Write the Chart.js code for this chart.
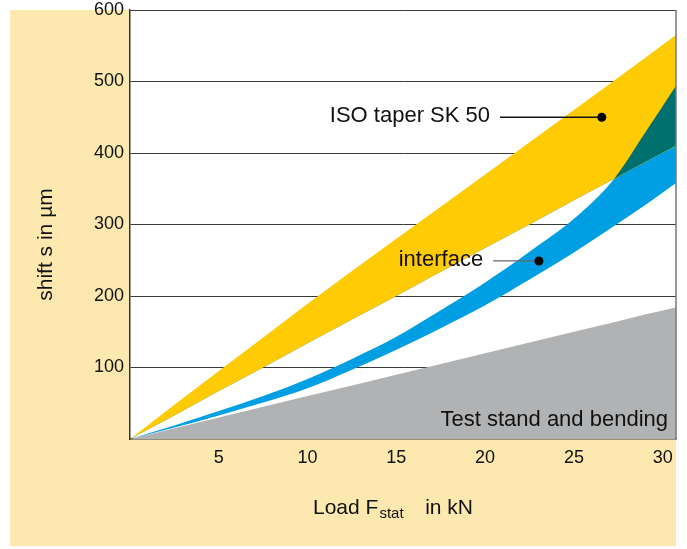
<!DOCTYPE html>
<html><head><meta charset="utf-8">
<script src="https://cdn.jsdelivr.net/npm/chart.js@4.4.1/dist/chart.umd.min.js"></script>
<style>html,body{margin:0;padding:0;background:#fff}#wrap{width:687px;height:549px}</style>
</head><body><div id="wrap"><canvas id="c" width="687" height="549"></canvas></div>
<script>
// ---- data (load in kN, shift in µm) ----
const loads          = [0, 2.5, 5, 7.5, 10, 12.5, 15, 17.5, 20, 22.5, 25, 27.2, 29, 30.75];
const testStand      = [0, 15, 30, 45, 60, 75, 90, 105, 120, 135, 150, 163, 174, 184];
const isoUpper       = [0, 48, 95, 142, 189, 235, 280, 325, 370, 415, 460, 500, 533, 565];
const isoLower       = [0, 33, 67, 100, 134, 167, 200, 234, 267, 300, 334, 363, 387, 410];
const interfaceUpper = [0, 19, 39, 60, 84, 112, 143, 180, 219, 262, 308, 362, 428, 494];
const interfaceLower = [0, 16, 33, 51, 71, 97, 125, 155, 187, 223, 261, 297, 327, 358];
const xTicks = [5, 10, 15, 20, 25, 30];
const yTicks = [100, 200, 300, 400, 500, 600];
const markerNames  = ['ISO taper SK 50', 'interface'];
const markerLoad   = [26.57, 23.03];
const markerShift  = [450, 249];
const leaderStart  = [20.84, 20.45];
const areaLabel    = 'Test stand and bending';

// ---- styles ----
const PANEL = '#FDE9B0', YELLOW = '#FFCB05', BLUE = '#009FE3', TEAL = '#00706E', GRAY = '#B1B2B4';
const FONT = "'Liberation Sans', Arial, Helvetica, sans-serif";
Chart.defaults.font.family = FONT;
Chart.defaults.color = '#111';

const pts = arr => loads.map((x, i) => ({x, y: arr[i]}));
const hidden = {borderWidth: 0, borderColor: 'rgba(0,0,0,0)', pointRadius: 0, tension: 0};
const curved = {...hidden, cubicInterpolationMode: 'monotone'};

const deco = {
  id: 'deco',
  beforeDraw(chart) {
    const {ctx, chartArea: a} = chart;
    ctx.save();
    ctx.fillStyle = PANEL;
    ctx.fillRect(10, 10, a.right - 10, 536);
    ctx.fillStyle = '#fff';
    ctx.fillRect(a.left, a.top, a.right - a.left, a.bottom - a.top);
    ctx.restore();
  },
  beforeDatasetDraw(chart, args) {
    if (args.index !== 6) return;
    const {ctx} = chart, xs = chart.scales.x, ys = chart.scales.y;
    ctx.save();
    markerNames.forEach((name, i) => {
      const y = ys.getPixelForValue(markerShift[i]);
      const x0 = xs.getPixelForValue(leaderStart[i]);
      const x1 = xs.getPixelForValue(markerLoad[i]);
      ctx.strokeStyle = i === 0 ? '#111' : '#666';
      ctx.lineWidth = 1.3;
      ctx.beginPath(); ctx.moveTo(x0, y); ctx.lineTo(x1, y); ctx.stroke();
      ctx.fillStyle = '#111';
      ctx.font = '22px ' + FONT;
      ctx.textAlign = 'right'; ctx.textBaseline = 'alphabetic';
      ctx.fillText(name, x0 - 10, y + 5);
    });
    ctx.restore();
  },
  afterDraw(chart) {
    const {ctx, chartArea: a} = chart;
    ctx.save();
    ctx.strokeStyle = '#777'; ctx.lineWidth = 1.5;
    ctx.beginPath(); ctx.moveTo(a.right, a.top); ctx.lineTo(a.right, a.bottom); ctx.stroke();
    ctx.fillStyle = '#111';
    ctx.font = '22px ' + FONT; ctx.textAlign = 'right'; ctx.textBaseline = 'alphabetic';
    ctx.fillText(areaLabel, a.right - 8, a.bottom - 13);
    ctx.textAlign = 'left';
    let x = a.left + 183; const base = a.bottom + 75;
    ctx.font = '21px ' + FONT; ctx.fillText('Load F', x, base); x += ctx.measureText('Load F').width;
    ctx.font = '15px ' + FONT; ctx.fillText('stat', x + 1, base + 4);
    ctx.font = '21px ' + FONT; ctx.textAlign = 'right'; ctx.fillText('in kN', a.left + 343, base);
    ctx.translate(46, (a.top + a.bottom) / 2 + 20);
    ctx.rotate(-Math.PI / 2);
    ctx.textAlign = 'center'; ctx.textBaseline = 'middle';
    ctx.font = '21px ' + FONT;
    ctx.fillText('shift s in µm', 0, 0);
    ctx.restore();
  }
};

new Chart(document.getElementById('c'), {
  type: 'line',
  data: {
    datasets: [
      {label: 'interface lower', data: pts(interfaceLower), ...curved, fill: false, order: 5},
      {label: 'interface', data: pts(interfaceUpper), ...curved, fill: 0, backgroundColor: BLUE, order: 5},
      {label: 'ISO lower', data: pts(isoLower), ...hidden, fill: false, order: 4},
      {label: 'ISO taper SK 50', data: pts(isoUpper), ...hidden, fill: 2, backgroundColor: YELLOW, order: 4},
      {label: 'overlap', data: pts(interfaceUpper), ...curved, fill: {target: 2, above: TEAL, below: 'rgba(0,0,0,0)'}, order: 3},
      {label: 'Test stand and bending', data: pts(testStand), ...hidden, fill: 'origin', backgroundColor: GRAY, order: 6},
      {type: 'scatter', label: 'markers', data: markerLoad.map((x, i) => ({x, y: markerShift[i]})),
       pointRadius: 4.5, pointBackgroundColor: '#000', pointBorderWidth: 0, showLine: false, order: 0}
    ]
  },
  options: {
    responsive: false, animation: false, devicePixelRatio: 1,
    layout: {padding: {left: 10, right: 11, top: 10, bottom: 0}},
    plugins: {legend: {display: false}, tooltip: {enabled: false}},
    scales: {
      x: {
        type: 'linear', min: 0, max: 30.75, z: 1,
        grid: {display: false, drawTicks: false},
        border: {display: true, color: '#333', width: 1.5},
        ticks: {font: {size: 18, lineHeight: 1}, padding: 10, color: '#111', maxRotation: 0},
        afterBuildTicks: s => { s.ticks = xTicks.map(v => ({value: v})); },
        afterFit: s => { s.height = 110; s.paddingLeft = 0; s.paddingRight = 0; }
      },
      y: {
        type: 'linear', min: 0, max: 600, z: 1,
        grid: {color: '#3a3a3a', lineWidth: 1, drawTicks: false},
        border: {display: true, color: '#333', width: 1.5},
        ticks: {font: {size: 18, lineHeight: 1}, padding: 6, color: '#111'},
        afterBuildTicks: s => { s.ticks = yTicks.map(v => ({value: v})); },
        afterFit: s => { s.width = 120; s.paddingTop = 0; s.paddingBottom = 0; }
      }
    }
  },
  plugins: [deco]
});
</script></body></html>
